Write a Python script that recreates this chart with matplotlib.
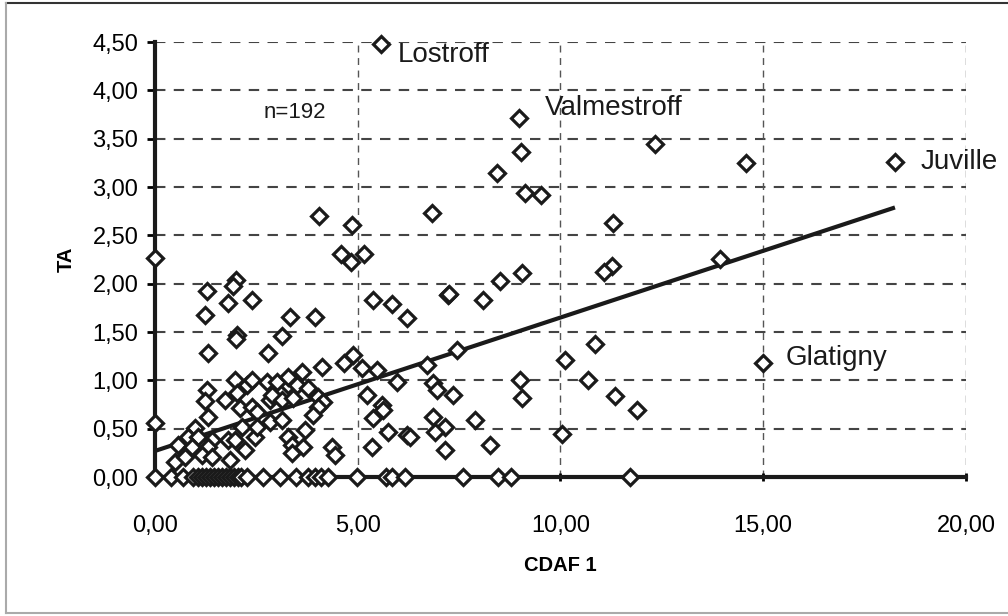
import matplotlib.pyplot as plt
from matplotlib.lines import Line2D

plt.rcParams['font.family'] = ['Liberation Sans', 'DejaVu Sans']

# CDAF 1 / TA values
cdaf = [
    # upper part / outliers
    5.57, 8.98, 9.03, 9.12, 9.52, 8.43, 18.25, 14.57, 12.33, 14.99,
    13.93, 11.30, 11.27, 11.07, 9.05, 8.51, 8.09, 7.23, 6.83,
    4.04, 4.86, 4.59, 4.83, 5.15, 3.33, 3.95, 3.13, 5.38,
    5.84, 6.21, 7.25, 10.11, 10.85, 10.68, 11.34, 11.89,
    # left cluster
    0.00, 1.28, 2.00, 1.92, 1.80, 2.39, 1.23, 2.02, 2.00, 1.31,
    1.97, 1.28, 2.02, 1.23, 1.73, 2.10, 2.39, 1.31, 0.00, 0.99,
    0.81, 1.06, 1.41, 1.80, 0.57, 0.91, 1.31, 1.16, 2.22, 1.85,
    0.49, 0.74, 1.41, 2.47, 1.97, 2.15, 2.84, 3.28, 2.27, 2.40,
    # middle cluster
    2.79, 4.12, 4.66, 4.88, 5.10, 2.76, 3.00, 3.28, 3.63, 3.50,
    3.77, 2.89, 3.13, 3.40, 4.02, 4.14, 4.02, 5.23, 3.90, 2.84,
    3.13, 2.52, 2.52, 3.28, 3.70, 3.38, 3.65, 3.38, 4.37, 4.44,
    5.35, 5.47, 6.71, 7.45, 5.97, 5.60, 5.62, 5.38, 5.75, 6.21,
    6.29, 6.86, 6.95, 6.86, 7.15, 6.90, 7.35, 7.15, 7.89, 8.26,
    9.00, 9.05, 10.04,
    # TA = 0
    0.00, 0.40, 0.70, 0.94, 1.05, 1.15, 1.25, 1.35, 1.45, 1.55,
    1.65, 1.75, 1.85, 1.95, 2.05, 2.12, 2.27, 2.66, 3.08, 3.48,
    3.77, 3.95, 4.09, 4.27, 4.98, 5.70, 5.85, 6.17, 7.60, 8.46,
    8.78, 11.71,
]
ta = [
    4.48, 3.71, 3.36, 2.94, 2.92, 3.14, 3.26, 3.25, 3.45, 1.18,
    2.26, 2.63, 2.18, 2.12, 2.11, 2.03, 1.83, 1.88, 2.73,
    2.70, 2.61, 2.31, 2.22, 2.31, 1.66, 1.66, 1.46, 1.83,
    1.79, 1.64, 1.89, 1.21, 1.38, 1.00, 0.84, 0.69,
    2.27, 1.92, 2.04, 1.98, 1.80, 1.83, 1.68, 1.47, 1.43, 1.28,
    1.00, 0.90, 0.87, 0.79, 0.80, 0.71, 0.72, 0.62, 0.56, 0.51,
    0.41, 0.41, 0.38, 0.38, 0.33, 0.31, 0.31, 0.23, 0.28, 0.18,
    0.16, 0.21, 0.21, 0.41, 0.38, 0.52, 0.80, 0.95, 0.95, 1.00,
    1.28, 1.14, 1.18, 1.26, 1.13, 0.98, 0.98, 1.03, 1.09, 0.95,
    0.92, 0.85, 0.80, 0.82, 0.83, 0.78, 0.72, 0.85, 0.64, 0.57,
    0.59, 0.67, 0.52, 0.41, 0.49, 0.33, 0.31, 0.25, 0.31, 0.23,
    0.31, 1.11, 1.16, 1.31, 0.98, 0.75, 0.69, 0.61, 0.47, 0.43,
    0.41, 0.97, 0.90, 0.62, 0.52, 0.47, 0.85, 0.28, 0.59, 0.33,
    1.00, 0.82, 0.45,
    0, 0, 0, 0, 0, 0, 0, 0, 0, 0,
    0, 0, 0, 0, 0, 0, 0, 0, 0, 0,
    0, 0, 0, 0, 0, 0, 0, 0, 0, 0,
    0, 0,
]

# linear trend
trend_intercept = 0.27
trend_slope = 0.138
trend_x = [0.0, 18.2]

labels = ['Lostroff', 'Valmestroff', 'Juville', 'Glatigny']
label_x = [5.99, 9.62, 18.87, 15.54]
label_y = [4.37, 3.82, 3.26, 1.23]

xticks = [0, 5, 10, 15, 20]
yticks = [0, 0.5, 1, 1.5, 2, 2.5, 3, 3.5, 4, 4.5]

fig = plt.figure(figsize=(10.08, 6.16), dpi=100)
ax = fig.add_axes([0.1538, 0.2256, 0.8045, 0.7062])

for t in yticks[1:]:
    ax.axhline(t, color='#444444', lw=1.5, ls=(0, (5, 4)), zorder=1)
for t in xticks[1:]:
    ax.axvline(t, color='#555555', lw=1.0, ls=(0, (5, 4)), zorder=1)

ax.plot(trend_x, [trend_intercept + trend_slope * v for v in trend_x],
        color='#1a1a1a', lw=3, zorder=2)
ax.plot(cdaf, ta, ls='none', marker='D', markersize=8, mfc='white',
        mec='#1a1a1a', mew=2.3, zorder=3, clip_on=False)

for name, lx, ly in zip(labels, label_x, label_y):
    ax.text(lx, ly, name, fontsize=20, va='center', ha='left', color='#1a1a1a')
ax.text(3.45, 3.77, 'n=192', fontsize=16, va='center', ha='center', color='#1a1a1a')

ax.set_xlim(0, 20)
ax.set_ylim(0, 4.5)
ax.set_xticks(xticks)
ax.set_yticks(yticks)
ax.set_yticklabels([('%.2f' % v).replace('.', ',') for v in yticks])
ax.set_xticklabels([('%.2f' % v).replace('.', ',') for v in xticks])
ax.tick_params(axis='x', labelsize=17, length=6, width=2, pad=24, direction='inout')
ax.tick_params(axis='y', labelsize=17, length=6, width=2, pad=6, direction='out')

for s in ['top', 'right']:
    ax.spines[s].set_visible(False)
for s in ['left', 'bottom']:
    ax.spines[s].set_linewidth(3)
    ax.spines[s].set_color('#1a1a1a')

ax.set_xlabel('CDAF 1', fontsize=14.5, fontweight='bold', labelpad=14)
ax.set_ylabel('TA', fontsize=14.5, fontweight='bold', labelpad=12)

# frame around the figure
fig.add_artist(Line2D([0.006, 1.0], [0.995, 0.995], color='#333333', lw=1.5))
fig.add_artist(Line2D([0.006, 0.006], [0.005, 0.995], color='#aaaaaa', lw=1.5))
fig.add_artist(Line2D([0.006, 1.0], [0.005, 0.005], color='#aaaaaa', lw=1.5))

fig.savefig('out.png', dpi=100)
